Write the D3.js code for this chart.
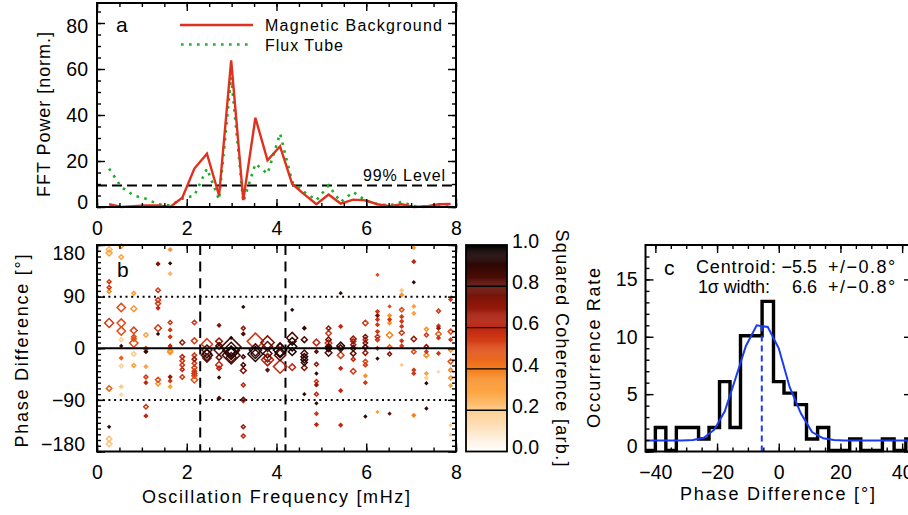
<!DOCTYPE html>
<html>
<head>
<meta charset="utf-8">
<script src="https://cdn.jsdelivr.net/npm/d3@7"></script>
<style>
  body { margin: 0; background: #fff; }
  svg text { font-family: "Liberation Sans", Arial, sans-serif; fill: #000; }
</style>
</head>
<body>
<svg id="chart" width="908" height="515"></svg>
<script>
// ---------- values ----------
const freqs = [0.27, 0.54, 0.82, 1.09, 1.36, 1.63, 1.90, 2.17, 2.45, 2.72, 2.99, 3.26, 3.53, 3.80, 4.08,
  4.35, 4.62, 4.89, 5.16, 5.43, 5.71, 5.98, 6.25, 6.52, 6.79, 7.06, 7.34, 7.61, 7.88];
const powerBackground = [1.2, 0, 0.4, 0.7, 0.7, 0, 4, 16.7, 23.2, 5, 63.8, 3, 38.8, 20.3, 26.4,
  10, 5.5, 1.2, 5.4, 1.5, 3.2, 2.9, 1.2, 0.4, 1.2, 0, 0.3, 1.2, 1.3];
const powerFluxTube = [16.7, 8.7, 5, 3.6, 1.2, 0.7, 3.6, 5, 16.7, 3.2, 56.5, 2.2, 18.8, 14.5, 31.9,
  10.9, 6.5, 2.9, 9.4, 2.2, 6.5, 2.9, 1.2, 0.7, 2.2, 0.4, 0, 0.7, 1.2];
const level99 = 9.4;
const bandLimits = [2.3, 4.2];

// [frequency bin (1-based), phase difference (deg), squared coherence, relative power]
const crossPoints = [
  [1,172,0.25,7],[1,166,0.3,7],[1,116,0.55,3],[1,106,0.55,3],[1,99,0.35,3],[1,44,0.55,16],[1,-70,0.45,6],[1,-137,0.9,1],[1,-158,0.22,6],[1,-167,0.22,6],
  [2,178,0.3,4],[2,159,0.3,4],[2,71,0.5,14],[2,44,0.5,14],[2,30,0.5,14],[2,15,0.18,3],[2,4,0.9,1],[2,-17,0.45,2],[2,-31,0.18,3],[2,-67,0.2,2],[2,-81,0.15,2],
  [3,96,0.3,3],[3,69,0.32,7],[3,31,0.52,9],[3,20,0.5,4],[3,16,0.45,5],[3,9,0.5,14],[3,-10,0.2,4],[3,-30,0.3,3],
  [4,23,0.3,4],[4,-1,0.5,4],[4,-6,0.9,2],[4,-32,0.3,2],[4,-50,0.55,3],[4,-60,0.6,2],[4,-102,0.55,4],[4,-118,0.6,2],
  [5,147,0.75,2],[5,101,0.55,4],[5,84,0.55,5],[5,78,0.55,5],[5,70,0.6,2],[5,35,0.55,9],[5,25,0.9,1],[5,-55,0.5,5],[5,-62,0.35,4],
  [6,172,0.35,2],[6,148,0.9,1],[6,130,0.25,2],[6,45,0.55,3],[6,32,0.55,2],[6,20,0.55,2],[6,4,0.6,2],[6,-5,0.35,5],[6,-7,0.3,5],[6,-50,0.7,2],[6,-57,0.55,2],[6,-67,0.3,2],
  [7,10,0.7,5],[7,-15,0.6,4],[7,-22,0.55,4],[7,-29,0.55,4],[7,-37,0.6,3],[7,-50,0.55,4],
  [8,45,0.55,4],[8,13,0.55,7],[8,-12,0.55,4],[8,-19,0.7,4],[8,-26,0.55,4],[8,-34,0.55,5],[8,-40,0.55,4],[8,-44,0.55,5],[8,-48,0.5,5],[8,-55,0.5,8],
  [9,7,0.55,25],[9,-3,0.85,20],[9,-9,0.9,16],[9,-12,0.85,25],[9,-17,0.8,14],
  [10,40,0.75,2],[10,12,0.7,9],[10,4,0.85,9],[10,-3,0.85,20],[10,-16,0.8,6],[10,-29,0.6,9],[10,-35,0.6,4],[10,-51,0.9,1],[10,-87,0.85,2],
  [11,2,0.85,80],[11,-4,0.9,55],[11,-8,0.92,36],[11,-12,0.85,64],[11,-16,0.8,20],[11,18,0.9,1],[11,-6,0.95,12],
  [12,72,0.9,1],[12,35,0.7,3],[12,25,0.85,2],[12,-15,0.85,3],[12,-29,0.85,4],[12,-39,0.75,7],[12,-64,0.6,3],[12,-89,0.8,3],[12,-92,0.55,2],[12,-137,0.7,3],[12,-153,0.6,3],
  [13,12,0.55,55],[13,-10,0.95,45],[13,-10,0.9,16],[13,-3,0.85,30],
  [14,10,0.75,36],[14,3,0.8,20],[14,-9,0.85,16],[14,-17,0.7,12],[14,-25,0.6,8],[14,-38,0.8,2],[14,-20,0.6,30],
  [15,-3,0.95,36],[15,-8,0.9,20],[15,-12,0.8,25],[15,-32,0.6,36],[15,5,0.7,6],
  [16,67,0.9,1],[16,18,0.85,25],[16,12,0.9,12],[16,3,0.95,16],[16,-6,0.95,12],[16,-33,0.6,9],
  [17,35,0.9,2],[17,15,0.85,7],[17,-9,0.85,9],[17,-15,0.9,9],[17,-20,0.9,9],[17,-25,0.9,7],[17,-34,0.75,6],[17,-80,0.9,1],
  [18,10,0.6,9],[18,-6,0.8,2],[18,-28,0.7,3],[18,-44,0.9,1],[18,-58,0.55,3],[18,-64,0.7,2],[18,-80,0.6,3],[18,-96,0.9,1],[18,-114,0.55,2],[18,-133,0.6,2],
  [19,35,0.7,4],[19,26,0.55,6],[19,15,0.75,6],[19,9,0.55,9],[19,3,0.85,7],[19,0,0.9,7],[19,-8,0.85,9],[19,-2,0.8,4],
  [20,96,0.9,1],[20,38,0.6,2],[20,4,0.9,12],[20,0,0.85,9],[20,-12,0.55,9],[20,-35,0.6,2],[20,-74,0.6,2],[20,-134,0.6,2],
  [21,16,0.7,7],[21,12,0.6,5],[21,6,0.7,5],[21,0,0.85,6],[21,-9,0.8,6],[21,-19,0.6,3],[21,-40,0.55,6],
  [22,44,0.55,6],[22,20,0.75,4],[22,15,0.6,4],[22,9,0.75,4],[22,2,0.85,5],[22,-8,0.7,5],[22,-23,0.5,4],[22,-29,0.55,3],[22,-48,0.35,2],[22,-60,0.55,2],[22,-119,0.9,1],
  [23,128,0.5,1],[23,64,0.55,2],[23,57,0.75,2],[23,50,0.55,2],[23,41,0.55,2],[23,29,0.55,2],[23,20,0.6,4],[23,15,0.55,3],[23,0,0.55,2],[23,-18,0.9,1],[23,-111,0.3,1],
  [24,73,0.5,1],[24,57,0.35,2],[24,50,0.55,2],[24,44,0.35,2],[24,23,0.4,8],[24,2,0.45,4],[24,-10,0.75,3],[24,-114,0.8,1],
  [25,101,0.2,2],[25,93,0.35,2],[25,67,0.5,4],[25,55,0.55,2],[25,47,0.55,2],[25,38,0.55,2],[25,27,0.55,5],[25,13,0.55,2],[25,4,0.55,2],[25,-29,0.2,1],
  [26,175,0.3,2],[26,151,0.6,2],[26,115,0.9,1],[26,73,0.3,2],[26,61,0.3,2],[26,16,0.7,6],[26,-6,0.5,4],[26,-38,0.55,2],[26,-44,0.55,2],[26,-117,0.4,2],
  [27,33,0.35,3],[27,23,0.55,3],[27,3,0.7,3],[27,-6,0.55,2],[27,-12,0.35,5],[27,-44,0.3,2],[27,-52,0.18,2],[27,-61,0.9,1],[27,-105,0.9,1],
  [28,65,0.55,3],[28,39,0.55,2],[28,35,0.7,2],[28,25,0.45,6],[28,18,0.55,2],[28,-9,0.55,2],[28,-41,0.15,1],
  [29,85,0.55,2],[29,29,0.5,5],[29,15,0.55,2],[29,-3,0.35,3],[29,-23,0.5,5],[29,-38,0.4,3],[29,-52,0.35,3],[29,-65,0.3,2],[29,-134,0.2,1],[29,-151,0.2,1]
];

// histogram of phase differences
const histEdges = [-43.2, -40, -36.6, -33.2, -29.6, -26, -22.6, -19.2, -15.8, -12.4, -8.9, -5.4, -1.7,
  1.7, 5.4, 9.0, 12.6, 16.2, 19.6, 23.0, 26.6, 30.0, 33.6, 37.4, 41.2, 44.8];
const histCounts = [0, 2, 0, 2, 2, 1, 2, 6, 2, 10, 10, 13, 6, 5, 4, 1, 2, 0, 0, 1, 0, 0, 1, 0, 1];
const fitX = [-43.2, -41.6, -38.3, -34.9, -31.4, -27.8, -24.3, -20.9, -17.5, -14.1, -10.65, -7.15, -3.55,
  0, 3.55, 7.2, 10.8, 14.4, 17.9, 21.3, 24.8, 28.3, 31.8, 35.5, 39.3, 43, 44.8];
const fitY = [0.95, 0.95, 0.95, 0.95, 0.96, 1.0, 1.2, 1.9, 3.5, 6.3, 9.2, 11.0, 10.85,
  9.0, 5.6, 3.3, 1.7, 1.15, 1.0, 0.95, 0.95, 0.95, 0.95, 0.95, 0.95, 0.95, 0.95];
const centroid = -5.5;
const fitPeak = 10.9;

const cohTicks = [0, 0.2, 0.4, 0.6, 0.8, 1.0];

// ---------- drawing ----------
const svg = d3.select("#chart");
const cohStops = [0, 0.1, 0.2, 0.3, 0.4, 0.5, 0.6, 0.7, 0.8, 0.9, 1];
const cohColors = ["#ffffff", "#fee7ca", "#fdca88", "#fca23c", "#f48020", "#de4c18", "#c02612",
  "#94190b", "#621007", "#310804", "#000000"];
const cohColor = d3.scaleLinear().domain(cohStops).range(cohColors).interpolate(d3.interpolateRgb);

// IDL-like box with inward ticks on all four sides
function box(g, x, y, o) {
  const [x0, x1] = x.range();
  const [y1, y0] = y.range();
  const put = (axis, tr) => {
    const a = g.append("g").attr("transform", tr).call(axis);
    a.select(".domain").remove();
    a.selectAll("line").attr("stroke", "#000").attr("stroke-width", 1.4);
    return a;
  };
  const minor = (axis, vals) => axis.tickValues(vals).tickSize(-4).tickFormat("");
  put(minor(d3.axisBottom(x), o.xMinor), `translate(0,${y1})`);
  put(minor(d3.axisTop(x), o.xMinor), `translate(0,${y0})`);
  put(minor(d3.axisLeft(y), o.yMinor), `translate(${x0},0)`);
  put(minor(d3.axisRight(y), o.yMinor), `translate(${x1},0)`);
  const bx = put(d3.axisBottom(x).tickValues(o.xMajor).tickSize(-8).tickPadding(o.xPad)
    .tickFormat(o.xFmt || d3.format("")), `translate(0,${y1})`);
  put(d3.axisTop(x).tickValues(o.xMajor).tickSize(-8).tickFormat(""), `translate(0,${y0})`);
  const by = put(d3.axisLeft(y).tickValues(o.yMajor).tickSize(-8).tickPadding(o.yPad)
    .tickFormat(o.yFmt || d3.format("")), `translate(${x0},0)`);
  put(d3.axisRight(y).tickValues(o.yMajor).tickSize(-8).tickFormat(""), `translate(${x1},0)`);
  [bx, by].forEach(a => a.attr("font-size", null).attr("font-family", null)
    .selectAll("text").style("font-size", "19.5px"));
  if (o.yShift) by.selectAll("text").attr("y", d => o.yShift(d));
  g.append("rect").attr("x", x0).attr("y", y0).attr("width", x1 - x0).attr("height", y1 - y0)
    .attr("fill", "none").attr("stroke", "#000").attr("stroke-width", 2);
}

function label(text, x, y, size, len, rot, anchor) {
  const t = svg.append("text").attr("transform", `translate(${x},${y})` + (rot ? ` rotate(${rot})` : ""))
    .attr("text-anchor", anchor || "middle").style("font-size", size + "px").text(text);
  if (len) t.attr("textLength", len).attr("lengthAdjust", "spacing");
  return t;
}

// ---- panel a: FFT power ----
const xa = d3.scaleLinear().domain([0, 8]).range([97, 456]);
const ya = d3.scaleLinear().domain([0, 88.7]).range([207, 3]);
const ga = svg.append("g");
const lineA = d3.line().x((d, i) => xa(freqs[i])).y(d => ya(d));
ga.append("line").attr("x1", xa(0)).attr("x2", xa(8)).attr("y1", ya(level99)).attr("y2", ya(level99))
  .attr("stroke", "#000").attr("stroke-width", 2).attr("stroke-dasharray", "10,5");
ga.append("path").datum(powerFluxTube).attr("d", lineA).attr("fill", "none")
  .attr("stroke", "#1fae2a").attr("stroke-width", 2.6).attr("stroke-dasharray", "2.6,5.4");
ga.append("path").datum(powerBackground).attr("d", lineA).attr("fill", "none")
  .attr("stroke", "#e0301e").attr("stroke-width", 2.4).attr("stroke-linejoin", "miter");
box(ga, xa, ya, {
  xMajor: [0, 2, 4, 6, 8], xMinor: d3.range(0, 8.01, 0.5), xPad: 14,
  yMajor: [0, 20, 40, 60, 80], yMinor: d3.range(0, 88, 5), yPad: 9,
  yShift: d => d === 0 ? -5 : (d === 80 ? 3 : 0)
});
ga.append("line").attr("x1", 180).attr("x2", 253).attr("y1", 25).attr("y2", 25)
  .attr("stroke", "#e0301e").attr("stroke-width", 2.4);
ga.append("line").attr("x1", 181).attr("x2", 253).attr("y1", 44.5).attr("y2", 44.5)
  .attr("stroke", "#1fae2a").attr("stroke-width", 2.6).attr("stroke-dasharray", "2.6,5.4");
label("Magnetic Background", 265, 31, 16, 177, 0, "start");
label("Flux Tube", 265, 50.5, 16, 78, 0, "start");
label("99% Level", 363, 181, 16, 82, 0, "start");
label("a", 116, 32, 21, 0, 0, "start");
label("FFT Power [norm.]", 50, 114.5, 18, 165, -90);

// ---- panel b: phase difference vs frequency ----
const xb = d3.scaleLinear().domain([0, 8]).range([97, 456]);
const yb = d3.scaleLinear().domain([-180, 180]).range([451.5, 245]);
const rb = d3.scaleSqrt().domain([0, 81]).range([0, 10]);
const gb = svg.append("g");
[-90, 90].forEach(v => gb.append("line").attr("x1", xb(0)).attr("x2", xb(8)).attr("y1", yb(v)).attr("y2", yb(v))
  .attr("stroke", "#000").attr("stroke-width", 2).attr("stroke-dasharray", "2,3.7"));
bandLimits.forEach(v => gb.append("line").attr("x1", xb(v)).attr("x2", xb(v)).attr("y1", yb(180)).attr("y2", yb(-180))
  .attr("stroke", "#000").attr("stroke-width", 2).attr("stroke-dasharray", "10,6.6"));
const diamond = r => `M0,${-r}L${r},0L0,${r}L${-r},0Z`;
gb.selectAll("path.pt").data(crossPoints.slice().sort((a, b) => a[2] - b[2])).join("path")
  .attr("class", "pt")
  .attr("transform", d => `translate(${xb(freqs[d[0] - 1])},${yb(d[1])})`)
  .attr("d", d => diamond(Math.max(1, rb(d[3]))))
  .attr("fill", d => rb(d[3]) < 1.6 ? cohColor(d[2]) : "none")
  .attr("stroke", d => cohColor(d[2])).attr("stroke-width", 1.5);
gb.append("line").attr("x1", xb(0)).attr("x2", xb(8)).attr("y1", yb(0)).attr("y2", yb(0))
  .attr("stroke", "#000").attr("stroke-width", 2);
box(gb, xb, yb, {
  xMajor: [0, 2, 4, 6, 8], xMinor: d3.range(0, 8.01, 0.5), xPad: 14,
  yMajor: [-180, -90, 0, 90, 180], yMinor: d3.range(-180, 181, 10), yPad: 12,
  yShift: d => d === 180 ? 8 : (d === -180 ? -7 : 0)
});
label("b", 117, 277, 21, 0, 0, "start");
label("Phase Difference [°]", 28, 351, 18, 193, -90);
label("Oscillation Frequency [mHz]", 276, 503, 18, 268);

// ---- colour bar ----
const yc = d3.scaleLinear().domain([0, 1]).range([451.5, 245]);
const gc = svg.append("g");
const cbSteps = d3.range(0, 1, 0.005);
gc.selectAll("rect.cb").data(cbSteps).join("rect").attr("class", "cb")
  .attr("x", 466).attr("width", 41).attr("y", d => yc(d + 0.005)).attr("height", yc(0) - yc(0.005) + 0.4)
  .attr("fill", d => cohColor(d + 0.0025));
cohTicks.slice(1, -1).forEach(v => gc.append("line").attr("x1", 466).attr("x2", 507)
  .attr("y1", yc(v)).attr("y2", yc(v)).attr("stroke", "#000").attr("stroke-width", 1.4));
gc.append("rect").attr("x", 466).attr("y", 245).attr("width", 41).attr("height", yc(0) - yc(1))
  .attr("fill", "none").attr("stroke", "#000").attr("stroke-width", 1.8);
gc.selectAll("text.cbl").data(cohTicks).join("text").attr("class", "cbl")
  .attr("x", 512).attr("y", d => yc(d) - 4).attr("dy", "0.35em").style("font-size", "19.5px")
  .text(d3.format(".1f"));
label("Squared Coherence [arb.]", 556, 348, 18, 237, 90);

// ---- panel c: histogram ----
const xh = d3.scaleLinear().domain([-43.2, 43.2]).range([645.5, 912]);
const yh = d3.scaleLinear().domain([0, 18]).range([451.5, 245]);
const gh = svg.append("g");
const stepPts = histEdges.map((e, i) => [e, histCounts[Math.min(i, histCounts.length - 1)]]);
gh.append("path").datum(stepPts)
  .attr("d", d3.line().x(d => xh(d[0])).y(d => yh(d[1]) - 1).curve(d3.curveStepAfter))
  .attr("fill", "none").attr("stroke", "#000").attr("stroke-width", 3.4);
gh.append("path").datum(fitX.map((v, i) => [v, fitY[i]]))
  .attr("d", d3.line().x(d => xh(d[0])).y(d => yh(d[1])))
  .attr("fill", "none").attr("stroke", "#1a3cf0").attr("stroke-width", 2);
gh.append("line").attr("x1", xh(centroid)).attr("x2", xh(centroid)).attr("y1", yh(0)).attr("y2", yh(fitPeak))
  .attr("stroke", "#1a3cf0").attr("stroke-width", 2).attr("stroke-dasharray", "6,4");
box(gh, xh, yh, {
  xMajor: [-40, -20, 0, 20, 40], xMinor: d3.range(-40, 41, 5), xPad: 14,
  yMajor: [0, 5, 10, 15], yMinor: d3.range(0, 18, 1), yPad: 8,
  yShift: d => d === 0 ? -5 : 0
});
label("c", 664, 275, 21, 0, 0, "start");
label("Centroid:", 696, 273, 18, 80, 0, "start");
label("\u22125.5", 817, 273, 18, 0, 0, "end");
label("+/\u22120.8°", 828, 273, 18, 0, 0, "start").style("letter-spacing", "1.5px");
label("1\u03c3 width:", 698, 293, 18, 72, 0, "start");
label("6.6", 817, 293, 18, 0, 0, "end");
label("+/\u22120.8°", 828, 293, 18, 0, 0, "start").style("letter-spacing", "1.5px");
label("Occurrence Rate", 600, 348, 18, 160, -90);
label("Phase Difference [°]", 777.5, 500, 18, 195);
</script>
</body>
</html>
